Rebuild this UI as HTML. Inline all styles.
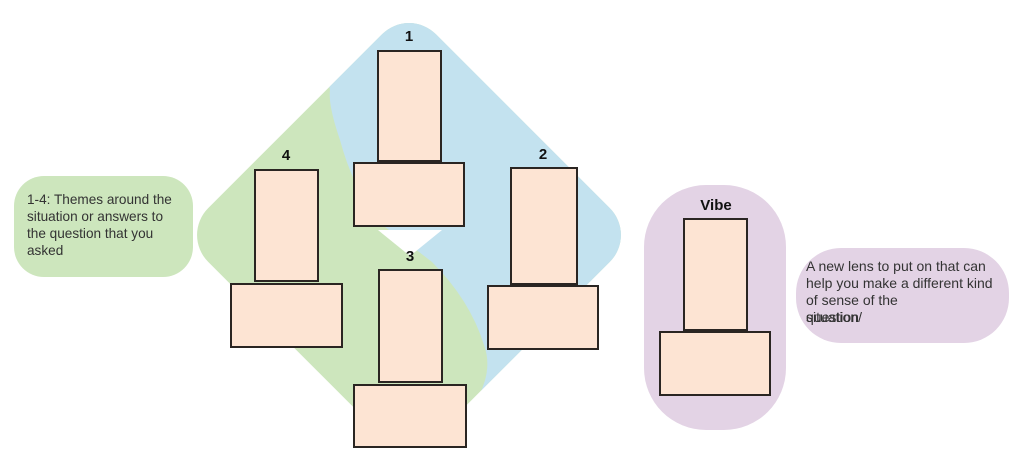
<!DOCTYPE html>
<html><head><meta charset="utf-8"><style>
body{margin:0;width:1024px;height:464px;background:#fff;overflow:hidden;position:relative;font-family:"Liberation Sans","DejaVu Sans",sans-serif}
.c{position:absolute;background:#fde4d3;border:2px solid #2a2522;box-sizing:border-box}
.lb{position:absolute;font-weight:bold;font-size:15px;color:#111;transform:translateX(-50%)}
.t{position:absolute;font-size:13.6px;line-height:17px;color:#333}
.r{font-size:14px;line-height:17px}
</style></head><body>
<svg width="1024" height="464" style="position:absolute;left:0;top:0">
<defs>
<clipPath id="bc"><path d="M300,0 L1024,0 L1024,464 L470,464 L470,410 Q495,375 484,345 Q470,300 432,262 L410,245 L378,222 Q352,185 340,140 Q328,105 330,90 Q328,70 300,40 Z"/></clipPath>
</defs>
<rect x="248" y="74" width="322" height="322" rx="38" fill="#cde6bd" transform="rotate(45 409 235)"/>
<g clip-path="url(#bc)"><rect x="248" y="74" width="322" height="322" rx="38" fill="#c3e2ef" transform="rotate(45 409 235)"/></g>
<polygon points="378,230 442,230 410,256" fill="#fff"/>
<rect x="644" y="185" width="142" height="245" rx="62" fill="#e3d3e5"/>
<rect x="796" y="248" width="213" height="95" rx="45" fill="#e3d3e5"/>
<rect x="14" y="176" width="179" height="101" rx="30" fill="#cde6bd"/>
</svg>
<div class="lb" style="left:409px;top:28px">1</div>
<div class="lb" style="left:286px;top:147px">4</div>
<div class="lb" style="left:543px;top:146px">2</div>
<div class="lb" style="left:410px;top:248px">3</div>
<div class="lb" style="left:716px;top:197px">Vibe</div>
<div class="c" style="left:377px;top:50px;width:65px;height:112px"></div>
<div class="c" style="left:353px;top:162px;width:112px;height:65px"></div>
<div class="c" style="left:254px;top:169px;width:65px;height:113px"></div>
<div class="c" style="left:230px;top:283px;width:113px;height:65px"></div>
<div class="c" style="left:510px;top:167px;width:68px;height:118px"></div>
<div class="c" style="left:487px;top:285px;width:112px;height:65px"></div>
<div class="c" style="left:378px;top:269px;width:65px;height:114px"></div>
<div class="c" style="left:353px;top:384px;width:114px;height:64px"></div>
<div class="c" style="left:683px;top:218px;width:65px;height:113px"></div>
<div class="c" style="left:659px;top:331px;width:112px;height:65px"></div>
<div class="t" style="left:27px;top:191px">1-4: Themes around the<br>situation or answers to<br>the question that you<br>asked</div>
<div class="t r" style="left:806px;top:258px">A new lens to put on that can<br>help you make a different kind<br>of sense of the</div>
<div class="t r" style="left:806px;top:309px">situation/</div>
<div class="t r" style="left:806px;top:309px">question</div>
</body></html>
